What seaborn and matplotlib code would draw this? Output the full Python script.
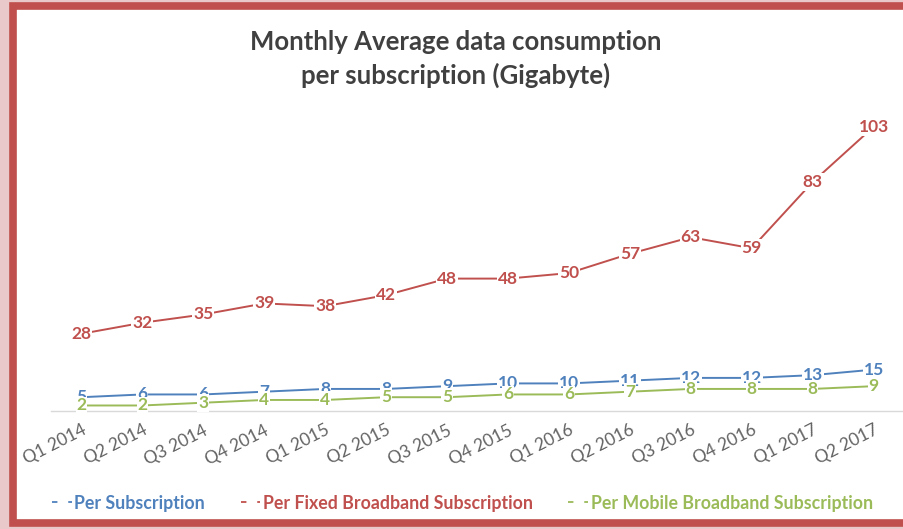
import matplotlib.pyplot as plt
import matplotlib.patches as mpatches
from matplotlib.lines import Line2D
import seaborn as sns
import pandas as pd

# chart data
quarters = ['Q1 2014', 'Q2 2014', 'Q3 2014', 'Q4 2014', 'Q1 2015', 'Q2 2015', 'Q3 2015',
            'Q4 2015', 'Q1 2016', 'Q2 2016', 'Q3 2016', 'Q4 2016', 'Q1 2017', 'Q2 2017']
per_subscription = [5, 6, 6, 7, 8, 8, 9, 10, 10, 11, 12, 12, 13, 15]
per_fixed = [28, 32, 35, 39, 38, 42, 48, 48, 50, 57, 63, 59, 83, 103]
per_mobile = [2, 2, 3, 4, 4, 5, 5, 6, 6, 7, 8, 8, 8, 9]
series_names = ['Per Subscription', 'Per Fixed Broadband Subscription', 'Per Mobile Broadband Subscription']

colors = ['#4f81bd', '#c0504d', '#9bbb59']

df = pd.DataFrame({
    'quarter': quarters * 3,
    'pos': list(range(len(quarters))) * 3,
    'value': per_subscription + per_fixed + per_mobile,
    'series': [s for s in series_names for _ in quarters],
})

sns.set_theme(style='white')
plt.rcParams['font.family'] = ['Lato', 'DejaVu Sans']

fig = plt.figure(figsize=(9.04, 5.29), dpi=100, facecolor='#e9c9c9')
W, H = 904, 529
# white card with red frame, behind the axes
frame = mpatches.Rectangle((13 / W, 6 / H), 900 / W, 517 / H, transform=fig.transFigure,
                           facecolor='white', edgecolor='#c0504d', linewidth=5.5, zorder=-5)
fig.patches.append(frame)

ax = fig.add_axes([51 / W, (H - 411) / H, 853 / W, 331 / H])
ax.set_facecolor('none')
ax.set_zorder(2)

sns.lineplot(data=df, x='pos', y='value', hue='series', palette=colors, hue_order=series_names,
             linewidth=1.4, legend=False, ax=ax, zorder=2)

for name, col in zip(series_names, colors):
    sub = df[df['series'] == name]
    for p, v in zip(sub['pos'], sub['value']):
        ax.text(p, v, str(v), color=col, fontsize=12.5, fontweight='bold', ha='center', va='center',
                zorder=3, bbox=dict(boxstyle='square,pad=0.05', facecolor='white', edgecolor='none'))

ax.set_xlim(-0.5, len(quarters) - 0.5)
ax.set_ylim(0, 120)
ax.set_xticks(range(len(quarters)))
ax.set_xticklabels(quarters, rotation=27, ha='right', rotation_mode='anchor', color='#636363', fontsize=12.5)
ax.tick_params(axis='x', length=0, pad=8)
ax.set_yticks([])
ax.set_xlabel('')
ax.set_ylabel('')
for s in ['top', 'right', 'left']:
    ax.spines[s].set_visible(False)
ax.spines['bottom'].set_color('#d9d9d9')
ax.spines['bottom'].set_linewidth(1.0)

fig.text(456 / W, 1 - 42 / H, 'Monthly Average data consumption', ha='center', va='center',
         fontsize=18.5, fontweight='bold', color='#404040')
fig.text(456 / W, 1 - 75 / H, 'per subscription (Gigabyte)', ha='center', va='center',
         fontsize=18.5, fontweight='bold', color='#404040')

handles = [Line2D([0], [0], color=c, linewidth=1.3, linestyle=(0, (3, 6))) for c in colors]
leg = fig.legend(handles, series_names, loc='center left', bbox_to_anchor=(52 / W, 1 - 503 / H),
                 ncol=3, frameon=False, handlelength=1.1, handletextpad=0.15, borderpad=0,
                 borderaxespad=0, columnspacing=2.0, prop={'weight': 'bold', 'size': 12.8})
for t, c in zip(leg.get_texts(), colors):
    t.set_color(c)

fig.savefig('out.png', dpi=100, facecolor=fig.get_facecolor())
